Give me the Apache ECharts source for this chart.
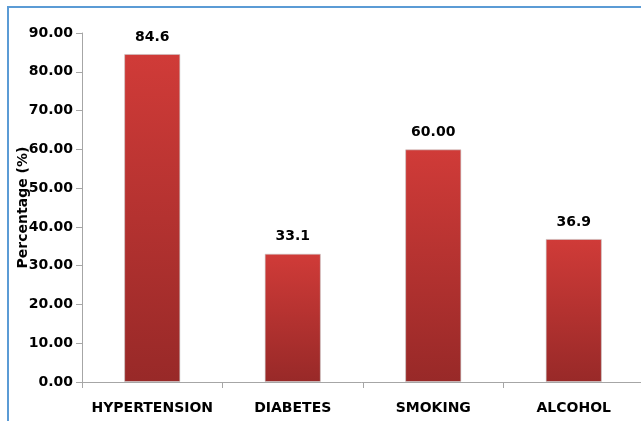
<!DOCTYPE html>
<html>
<head>
<meta charset="utf-8">
<script src="https://cdn.jsdelivr.net/npm/echarts@6/dist/echarts.min.js"></script>
<style>
  html, body { margin: 0; padding: 0; background: #fff; }
  #chart { width: 641px; height: 421px; }
</style>
</head>
<body>
<div id="chart"></div>
<script>
// values
const categories = ['HYPERTENSION', 'DIABETES', 'SMOKING', 'ALCOHOL']
const values = [84.6, 33.1, 60.0, 36.9]
const valueLabels = ['84.6', '33.1', '60.00', '36.9']
const yTicks = [0, 10, 20, 30, 40, 50, 60, 70, 80, 90]

const font = 'DejaVu Sans'
const chart = echarts.init(document.getElementById('chart'))

const option = {
  animation: false,
  grid: { left: 82, top: 33, width: 562, bottom: 39, outerBoundsMode: 'none' },
  graphic: [{
    type: 'rect',
    shape: { x: 8, y: 7, width: 700, height: 500 },
    style: { fill: 'none', stroke: '#5b9bd5', lineWidth: 2 },
    silent: true
  }],
  xAxis: {
    type: 'category',
    data: categories,
    axisLine: { lineStyle: { color: '#a6a6a6', width: 1 } },
    axisTick: { show: true, interval: 0, length: 6, lineStyle: { color: '#a6a6a6' } },
    axisLabel: { interval: 0, color: '#000', fontFamily: font, fontWeight: 'bold', fontSize: 14, margin: 19 }
  },
  yAxis: {
    type: 'value',
    min: yTicks[0],
    max: yTicks[yTicks.length - 1],
    interval: 10,
    name: 'Percentage (%)',
    nameLocation: 'middle',
    nameRotate: 90,
    nameGap: 52,
    nameMoveOverlap: false,
    nameTextStyle: { color: '#000', fontFamily: font, fontWeight: 'bold', fontSize: 14 },
    splitLine: { show: false },
    axisLine: { show: true, lineStyle: { color: '#a6a6a6', width: 1 } },
    axisTick: { show: true, length: 6, lineStyle: { color: '#a6a6a6' } },
    axisLabel: {
      color: '#000', fontFamily: font, fontWeight: 'bold', fontSize: 14, margin: 9,
      formatter: v => v.toFixed(2)
    }
  },
  series: [{
    type: 'bar',
    data: values,
    barWidth: '40%',
    itemStyle: {
      color: new echarts.graphic.LinearGradient(0, 0, 0, 1, [
        { offset: 0, color: '#d03b38' },
        { offset: 1, color: '#982928' }
      ]),
      borderColor: 'rgba(200,200,200,0.6)',
      borderWidth: 1
    },
    label: {
      show: true,
      position: 'top',
      distance: 10,
      color: '#000',
      fontFamily: font,
      fontWeight: 'bold',
      fontSize: 14,
      formatter: p => valueLabels[p.dataIndex]
    }
  }]
}

chart.setOption(option)
</script>
</body>
</html>
